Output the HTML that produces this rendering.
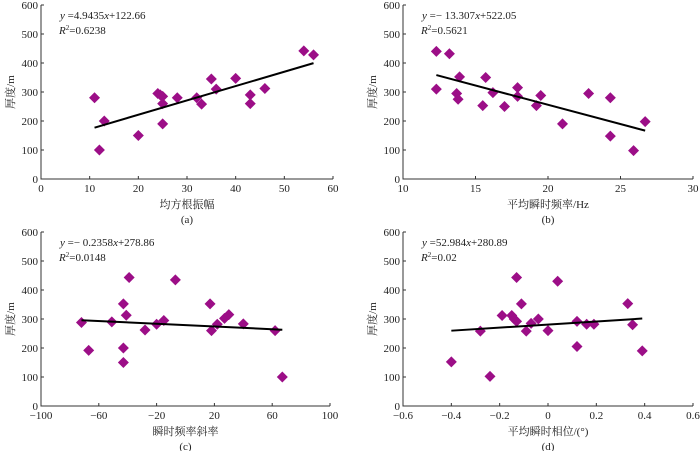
<!DOCTYPE html>
<html><head><meta charset="utf-8"><style>
body{margin:0;background:#fff}
svg text{font-family:"Liberation Serif","Noto Serif CJK SC",serif;font-size:11px;fill:#222}
</style></head><body>
<svg id="c" width="700" height="451" viewBox="0 0 700 451" xmlns="http://www.w3.org/2000/svg"></svg>
<script>
const aX=[11,12,13,20,24,24.5,25,25,25,28,32,33,35,36,40,43,43,46,54,56];
const aY=[280,100,200,150,295,290,285,260,190,280,280,258,345,310,347,290,260,312,442,428];
const bX=[12.3,12.3,13.2,13.7,13.8,13.9,15.5,15.7,16.2,17,17.9,17.9,19.2,19.5,21,22.8,24.3,24.3,25.9,26.7];
const bY=[440,310,432,295,275,352,253,350,298,250,315,285,253,288,190,295,148,280,98,198];
const cX=[-72,-67,-51,-43,-43,-43,-41,-39,-28,-20,-15,-7,17,18,22,27,30,40,62,67];
const cY=[288,192,290,352,200,150,313,443,262,282,295,435,352,260,282,302,315,283,260,100];
const dX=[-0.4,-0.28,-0.24,-0.19,-0.15,-0.14,-0.13,-0.13,-0.11,-0.09,-0.07,-0.04,0,0.04,0.12,0.12,0.16,0.19,0.33,0.35,0.39];
const dY=[152,258,102,312,312,300,443,292,352,258,285,300,260,430,292,205,282,282,353,280,190];
const yTicks=[0,100,200,300,400,500,600];
const aTicks=[0,10,20,30,40,50,60];
const bTicks=[10,15,20,25,30];
const cTicks=[-100,-60,-20,20,60,100];
const cTickLabels=["\u2212100","\u221260","\u221220","20","60","100"];
const dTicks=[-0.6,-0.4,-0.2,0,0.2,0.4,0.6];
const dTickLabels=["\u22120.6","\u22120.4","\u22120.2","0","0.2","0.4","0.6"];
const slopes=[4.9435,-13.307,-0.2358,52.984];
const intercepts=[122.66,522.05,278.86,280.89];
const slopeText=["4.9435","\u2212 13.307","\u2212 0.2358","52.984"];
const interceptText=["+122.66","+522.05","+278.86","+280.89"];
const r2=["=0.6238","=0.5621","=0.0148","=0.02"];
const xTitles=["均方根振幅","平均瞬时频率/Hz","瞬时频率斜率","平均瞬时相位/(°)"];
const caps=["(a)","(b)","(c)","(d)"];
const svg=document.getElementById('c');
const NS="http://www.w3.org/2000/svg";
function el(t,a,p){const e=document.createElementNS(NS,t);for(const k in a)e.setAttribute(k,a[k]);(p||svg).appendChild(e);return e;}
const panels=[
 {xs:aX,ys:aY,ticks:aTicks,labels:aTicks.map(String),x0:41,x1:333,y0:179,y1:5,min:0,max:60},
 {xs:bX,ys:bY,ticks:bTicks,labels:bTicks.map(String),x0:403,x1:693,y0:179,y1:5,min:10,max:30},
 {xs:cX,ys:cY,ticks:cTicks,labels:cTickLabels,x0:41,x1:330,y0:406,y1:232,min:-100,max:100},
 {xs:dX,ys:dY,ticks:dTicks,labels:dTickLabels,x0:403,x1:693,y0:406,y1:232,min:-0.6,max:0.6}
];
panels.forEach((p,i)=>{
 const g=el('g',{});
 
 
 const sx=v=>p.x0+(v-p.min)/(p.max-p.min)*(p.x1-p.x0);
 const sy=v=>p.y0-(v/600)*(p.y0-p.y1);
 const ax=el('path',{d:`M${p.x0},${p.y1}V${p.y0}H${p.x1}`,stroke:'#333',fill:'none','stroke-width':1},g);
 
 yTicks.forEach(t=>{el('line',{x1:p.x0,x2:p.x0+3,y1:sy(t),y2:sy(t),stroke:'#333'},g);
  const tx=el('text',{x:p.x0-3,y:sy(t)+4,'text-anchor':'end'},g);tx.textContent=t;
  });
 p.ticks.forEach((t,j)=>{el('line',{x1:sx(t),x2:sx(t),y1:p.y0,y2:p.y0-3,stroke:'#333'},g);
  const tx=el('text',{x:sx(t),y:p.y0+13,'text-anchor':'middle'},g);tx.textContent=p.labels[j];
  });
 const yl=el('text',{x:0,y:0,transform:`translate(${p.x0-27},${(p.y0+p.y1)/2}) rotate(-90)`,'text-anchor':'middle','font-size':12},g);
 yl.textContent='厚度/m';
 const xl=el('text',{x:(p.x0+p.x1)/2,y:p.y0+29,'text-anchor':'middle','font-size':12},g);
 xl.textContent=xTitles[i];
 const cp=el('text',{x:(p.x0+p.x1)/2,y:p.y0+44,'text-anchor':'middle','font-size':12},g);
 cp.textContent=caps[i];
 p.xs.forEach((x,k)=>{const cx=sx(x),cy=sy(p.ys[k]);
  const d=el('path',{d:`M${cx},${cy-5.5}L${cx+5.5},${cy}L${cx},${cy+5.5}L${cx-5.5},${cy}Z`,fill:'#9c0e87'},g);
  });
 const lo=Math.min(...p.xs),hi=Math.max(...p.xs);
 const ln=el('line',{x1:sx(lo),y1:sy(slopes[i]*lo+intercepts[i]),x2:sx(hi),y2:sy(slopes[i]*hi+intercepts[i]),stroke:'#000','stroke-width':2},g);
 
 const eq=el('text',{x:p.x0+19,y:p.y1+14},g);
 eq.innerHTML='<tspan font-style="italic">y</tspan> ='+slopeText[i]+'<tspan font-style="italic">x</tspan>'+interceptText[i];
 
 const r=el('text',{x:p.x0+18,y:p.y1+29},g);
 r.innerHTML='<tspan font-style="italic">R</tspan><tspan font-size="7" dy="-4">2</tspan><tspan dy="4">'+r2[i]+'</tspan>';
 
});
</script>
</body></html>
